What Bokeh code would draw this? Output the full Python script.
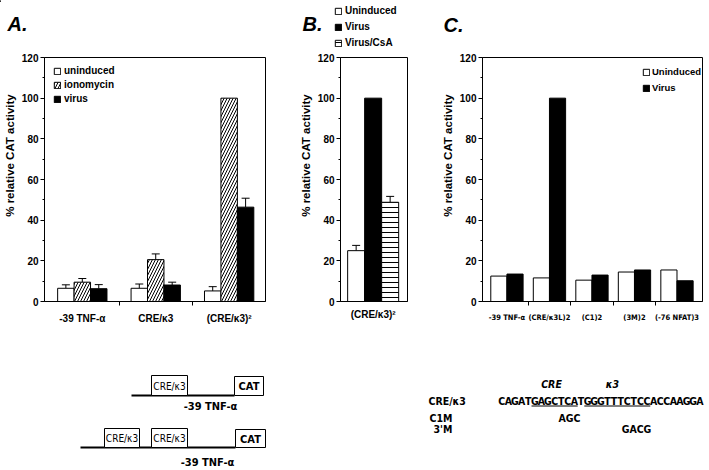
from bokeh.plotting import figure
from bokeh.models import (Range1d, FixedTicker, Legend, LegendItem, Whisker, TeeHead,
                          ColumnDataSource)
from bokeh.layouts import column, row
from bokeh.embed import file_html
from bokeh.resources import INLINE
from bokeh.core.properties import value

FONT = "Liberation Sans"
NARROW = "DejaVu Sans Condensed"

# ---------------- data ----------------
a_groups = ["-39 TNF-α", "CRE/κ3", "(CRE/κ3)²"]
a_series = ["uninduced", "ionomycin", "virus"]
a_uninduced = [6.5, 6.5, 5.2]
a_uninduced_err = [8.2, 8.6, 7.3]
a_ionomycin = [9.5, 20.6, 100.0]
a_ionomycin_err = [11.3, 23.4, None]
a_virus = [6.3, 8.1, 46.4]
a_virus_err = [8.3, 9.5, 50.8]

b_groups = ["(CRE/κ3)²"]
b_series = ["Uninduced", "Virus", "Virus/CsA"]
b_values = [25.0, 100.0, 48.8]
b_err = [27.6, None, 51.7]

c_groups = ["-39 TNF-α", "(CRE/κ3L)2", "(C1)2", "(3M)2", "(-76 NFAT)3"]
c_series = ["Uninduced", "Virus"]
c_uninduced = [12.5, 11.6, 10.5, 14.5, 15.5]
c_virus = [13.5, 100.0, 13.0, 15.5, 10.2]

y_ticks = [0, 20, 40, 60, 80, 100, 120]
y_minor = [10, 30, 50, 70, 90, 110]
y_title = "% relative CAT activity"
panel_tags = ["A.", "B.", "C."]

construct_label = "-39 TNF-α"
element_label = "CRE/κ3"
reporter_label = "CAT"
seq_name = "CRE/κ3"
sequence = "CAGATGAGCTCATGGGTTTCTCCACCAAGGA"
mut_names = ["C1M", "3'M"]
mut_seqs = ["AGC", "GACG"]
site_names = ["CRE", "κ3"]

W = 709
HEAD_H = 49
TOP_H = 281
BOT_H = 140
# the axis titles sit above the middle of the axis in the reference: pad their start
TITLE_PAD = "\u00a0" * 15


def panel(width, bl, br, xr):
    p = figure(width=width, height=TOP_H, x_range=Range1d(*xr), y_range=Range1d(0, 120),
               output_backend="svg", toolbar_location=None,
               min_border_left=bl, min_border_right=br, min_border_top=8, min_border_bottom=29)
    p.grid.visible = False
    p.outline_line_color = "black"
    p.outline_line_width = 1
    p.yaxis.ticker = FixedTicker(ticks=y_ticks, minor_ticks=y_minor)
    p.yaxis.major_tick_out = 4
    p.yaxis.major_tick_in = 0
    p.yaxis.minor_tick_out = 2
    p.yaxis.minor_tick_in = 0
    p.yaxis.major_label_standoff = 2
    p.yaxis.axis_label = TITLE_PAD + y_title
    p.yaxis.axis_label_standoff = 3
    p.yaxis.axis_label_text_font = FONT
    p.yaxis.axis_label_text_font_size = "11.5px"
    p.yaxis.axis_label_text_font_style = "bold"
    p.yaxis.axis_label_text_color = "black"
    p.axis.major_label_text_font = FONT
    p.axis.major_label_text_font_style = "bold"
    p.axis.major_label_text_color = "black"
    p.yaxis.major_label_text_font_size = "10px"
    p.axis.axis_line_color = "black"
    p.axis.major_tick_line_color = "black"
    p.axis.minor_tick_line_color = "black"
    p.xaxis.major_tick_out = 0
    p.xaxis.major_tick_in = 0
    p.xaxis.minor_tick_out = 4
    p.xaxis.minor_tick_in = 0
    p.xaxis.major_label_standoff = 7
    return p


def bars(p, xs, tops, w, **kw):
    src = ColumnDataSource(dict(x=xs, top=tops))
    return p.vbar(x="x", top="top", width=w, source=src, line_color="black", line_width=1, **kw)


def errs(p, xs, tops, ups):
    bx, bl, bu = [], [], []
    for x, t, u in zip(xs, tops, ups):
        if u is not None:
            bx.append(x); bl.append(t); bu.append(u)
    src = ColumnDataSource(dict(x=bx, lo=bl, up=bu))
    p.add_layout(Whisker(base="x", lower="lo", upper="up", source=src, line_color="black",
                         line_width=1, lower_head=None,
                         upper_head=TeeHead(size=8, line_color="black", line_width=1)))


def legend(p, items, loc, spacing, fs, standoff=3):
    lg = Legend(items=items, location=loc, glyph_width=8, glyph_height=8,
                label_standoff=standoff, label_height=10, spacing=spacing, padding=0, margin=0,
                background_fill_alpha=0, border_line_alpha=0,
                label_text_font=FONT, label_text_font_style="bold", label_text_font_size=fs,
                label_text_color="black")
    p.add_layout(lg)


WHITE = dict(fill_color="white")
HATCH_A = dict(fill_color="white", hatch_pattern="/", hatch_color="black", hatch_scale=6,
               hatch_weight=1)
BLACK = dict(fill_color="black")
HATCH_B = dict(fill_color="white", hatch_pattern="-", hatch_color="black", hatch_scale=5,
               hatch_weight=1)

# ---------------- header (panel tags + legend of B) ----------------
ph = figure(width=W, height=HEAD_H, x_range=Range1d(0, W), y_range=Range1d(HEAD_H, 0),
            output_backend="svg", toolbar_location=None, x_axis_location=None,
            y_axis_location=None, min_border=0)
ph.grid.visible = False
ph.outline_line_color = None
ph.text(x=[7, 302, 443], y=[23, 23, 24], text=panel_tags, text_font=value(FONT),
        text_font_size="20px", text_font_style="bold italic", text_color="black",
        text_baseline="alphabetic")
# legend swatches of panel B (proxy renderers kept outside the visible header range)
hb = [ph.vbar(x=[-100], top=[1], bottom=[0], width=1, line_color="black", **st)
      for st in (WHITE, BLACK, HATCH_B)]
legend(ph, [LegendItem(label=s, renderers=[r]) for s, r in zip(b_series, hb)],
       (334, 1), 5, "10px")

# ---------------- panel A ----------------
pa = panel(296, 43, 31, (-0.515, 2.495))
wa = 0.224
xa = list(range(len(a_groups)))
x1 = [x - wa for x in xa]
x3 = [x + wa for x in xa]
r1 = bars(pa, x1, a_uninduced, wa, **WHITE)
r2 = bars(pa, xa, a_ionomycin, wa, **HATCH_A)
r3 = bars(pa, x3, a_virus, wa, **BLACK)
errs(pa, x1, a_uninduced, a_uninduced_err)
errs(pa, xa, a_ionomycin, a_ionomycin_err)
errs(pa, x3, a_virus, a_virus_err)
pa.xaxis.ticker = FixedTicker(ticks=xa, minor_ticks=[0.5, 1.5])
pa.xaxis.major_label_overrides = {i: g for i, g in enumerate(a_groups)}
pa.xaxis.major_label_text_font_size = "10px"
legend(pa, [LegendItem(label=s, renderers=[r]) for s, r in zip(a_series, [r1, r2, r3])],
       (9, 197), 3, "10px")

# ---------------- panel B ----------------
pb = panel(142, 39, 31, (-1.92, 2.02))
xb = [-1, 0, 1]
bars(pb, [xb[0]], [b_values[0]], 1, **WHITE)
bars(pb, [xb[1]], [b_values[1]], 1, **BLACK)
bars(pb, [xb[2]], [b_values[2]], 1, **HATCH_B)
errs(pb, xb, b_values, b_err)
pb.xaxis.ticker = FixedTicker(ticks=[0], minor_ticks=[])
pb.xaxis.major_label_overrides = {0: b_groups[0]}
pb.xaxis.major_label_text_font_size = "10px"

# ---------------- panel C ----------------
pc = panel(271, 39, 7, (-0.575, 4.60))
wc = 0.38
xc = list(range(len(c_groups)))
rc1 = bars(pc, [x - wc / 2 for x in xc], c_uninduced, wc, **WHITE)
rc2 = bars(pc, [x + wc / 2 for x in xc], c_virus, wc, **BLACK)
pc.xaxis.ticker = FixedTicker(ticks=xc, minor_ticks=[0.5, 1.5, 2.5, 3.5])
pc.xaxis.major_label_overrides = {i: g for i, g in enumerate(c_groups)}
pc.xaxis.major_label_text_font = NARROW
pc.xaxis.major_label_text_font_size = "7.5px"
legend(pc, [LegendItem(label=s, renderers=[r]) for s, r in zip(c_series, [rc1, rc2])],
       (160, 208), 5, "9.5px", standoff=2)

# ---------------- diagrams ----------------
pd = figure(width=W, height=BOT_H, x_range=Range1d(0, W), y_range=Range1d(470, 330),
            output_backend="svg", toolbar_location=None, x_axis_location=None,
            y_axis_location=None, min_border=0)
pd.grid.visible = False
pd.outline_line_color = None

# construct 1
pd.segment(x0=[131], y0=[395], x1=[234], y1=[395], line_color="black", line_width=2)
pd.quad(left=[151, 234], right=[187, 263], top=[375, 376], bottom=[395, 395],
        fill_color="white", line_color="black", line_width=1)
# construct 2
pd.segment(x0=[80], y0=[447], x1=[235], y1=[447], line_color="black", line_width=2)
pd.quad(left=[104, 151, 235], right=[139, 187, 265], top=[428, 428, 429],
        bottom=[447, 447, 447], fill_color="white", line_color="black", line_width=1)
pd.text(x=[169, 121.5, 169], y=[385.5, 438, 438], text=[element_label] * 3,
        text_font=value(NARROW), text_font_size="10px", text_color="black",
        text_align="center", text_baseline="middle")
pd.text(x=[248.5, 250], y=[386, 438.5], text=[reporter_label] * 2, text_font=value(NARROW),
        text_font_size="11px", text_font_style="bold", text_color="black",
        text_align="center", text_baseline="middle")
pd.text(x=[210, 207], y=[406, 462], text=[construct_label] * 2, text_font=value(NARROW),
        text_font_size="11px", text_font_style="bold", text_color="black",
        text_align="center", text_baseline="middle")

# sequence
x0 = 498.0
pitch = 6.6
pd.text(x=[x0 + (i + 0.5) * pitch for i in range(len(sequence))], y=[400] * len(sequence),
        text=list(sequence), text_font=value(NARROW), text_font_size="10.5px",
        text_font_style="bold", text_color="black", text_align="center",
        text_baseline="middle")
pd.text(x=[428], y=[400], text=[seq_name], text_font=value(NARROW), text_font_size="10.5px",
        text_font_style="bold", text_color="black", text_align="left", text_baseline="middle")
pd.text(x=[551, 612], y=[383, 383], text=site_names, text_font=value(NARROW),
        text_font_size="10.5px", text_font_style="bold italic", text_color="black",
        text_align="center", text_baseline="middle")
pd.segment(x0=[x0 + 5 * pitch, x0 + 13 * pitch], y0=[405.5, 405.5],
           x1=[x0 + 12 * pitch, x0 + 23 * pitch], y1=[405.5, 405.5],
           line_color="black", line_width=1)
pd.text(x=[429, 433], y=[417, 428], text=mut_names, text_font=value(NARROW),
        text_font_size="10.5px", text_font_style="bold", text_color="black",
        text_align="left", text_baseline="middle")
pd.text(x=[569, 636], y=[417, 428], text=mut_seqs, text_font=value(NARROW),
        text_font_size="10.5px", text_font_style="bold", text_color="black",
        text_align="center", text_baseline="middle")

layout = column(ph, row(pa, pb, pc, spacing=0), pd, spacing=0)
open("out.html", "w").write(file_html(layout, INLINE))
